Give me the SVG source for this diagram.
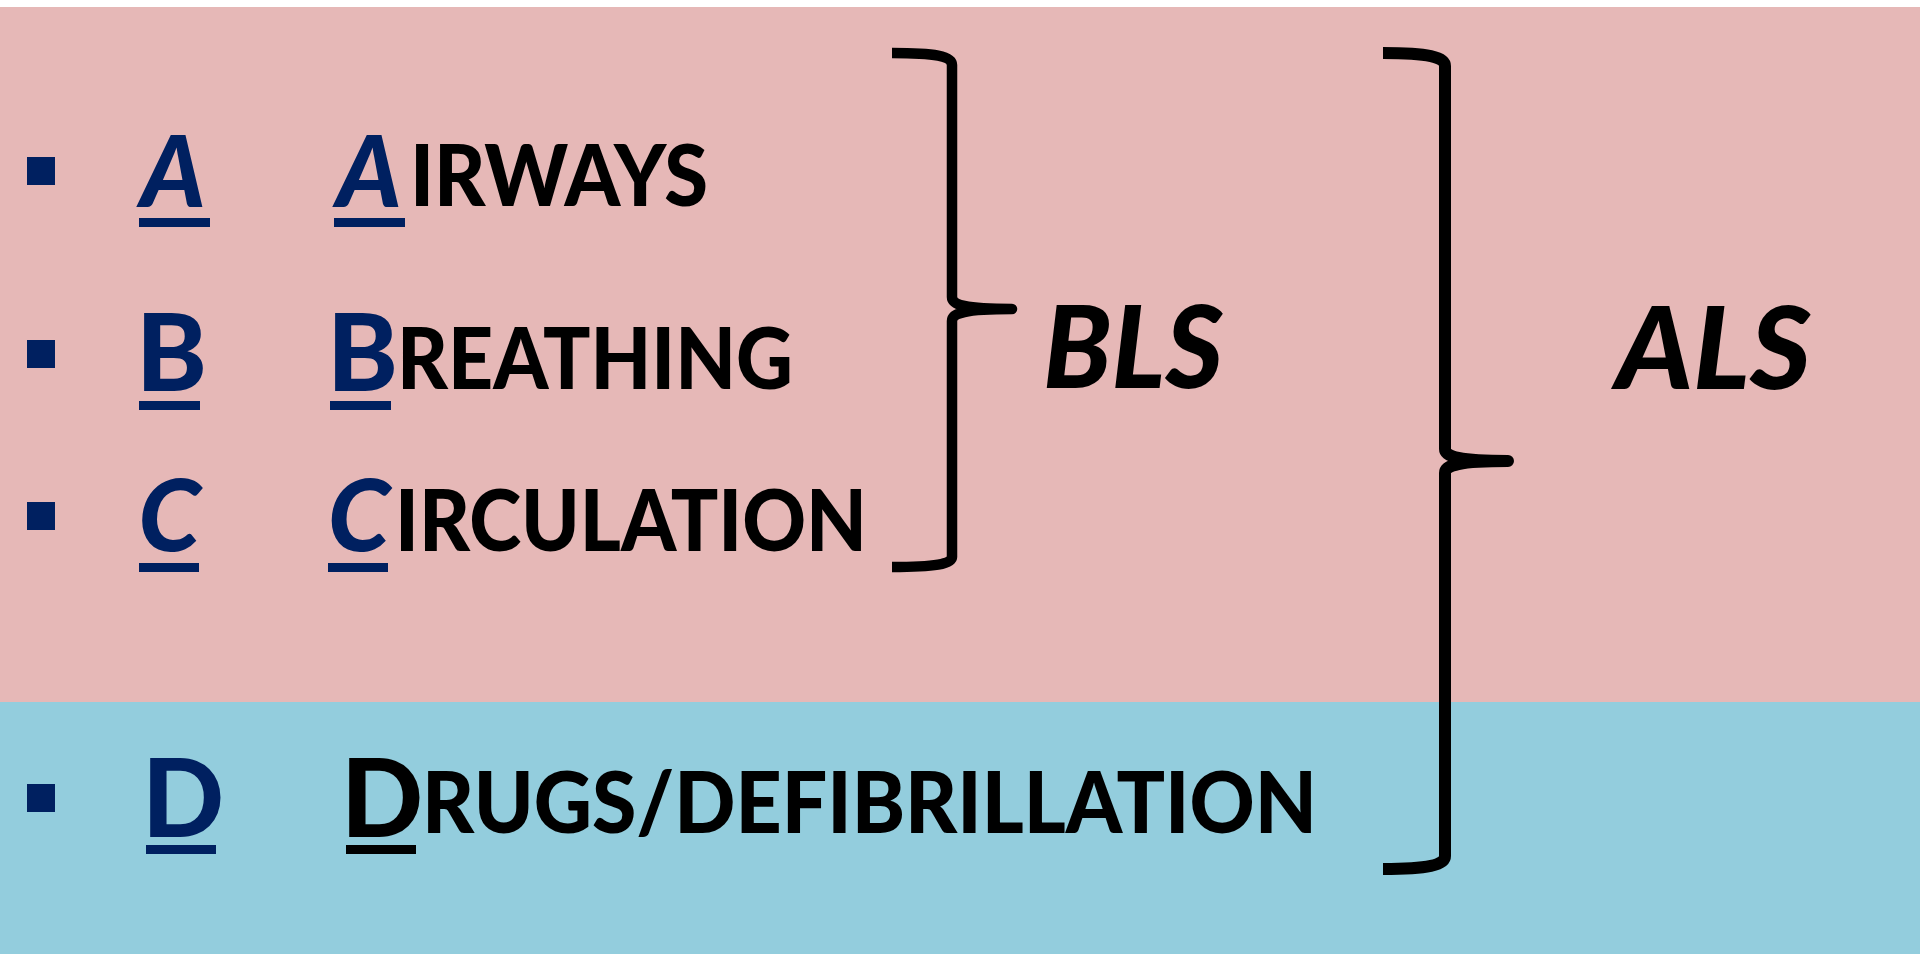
<svg xmlns="http://www.w3.org/2000/svg" width="1920" height="954" viewBox="0 0 1920 954">
<style>
.word{font-family:Lato,"Open Sans","Liberation Sans",sans-serif;font-weight:900;font-size:86.5px;fill:#000}
.scr{font-family:Lato,"Open Sans","Liberation Sans",sans-serif;font-weight:900;fill:#002060;text-anchor:middle}
.it{font-style:italic}
.nav{fill:#002060}
.blk{fill:#000}
.brace{fill:none;stroke:#000;stroke-linejoin:round;stroke-linecap:butt}
.lbl{font-family:Lato,"Open Sans","Liberation Sans",sans-serif;font-weight:900;font-style:italic;font-size:114px;fill:#000}
</style>
<rect x="0" y="0" width="1920" height="954" fill="#ffffff"/>
<rect x="0" y="7" width="1920" height="695" fill="#E6B8B7"/>
<rect x="0" y="702" width="1920" height="252" fill="#93CDDD"/>

<g id="row-a">
<rect class="nav" x="27" y="157" width="28" height="28"/>
<text class="scr it" x="173" y="207" font-size="99">A</text>
<rect class="nav" x="139" y="218" width="71" height="9"/>
<text y="206"><tspan class="scr it" x="369" y="207" font-size="99">A</tspan><tspan class="word" x="410" y="206" textLength="298" lengthAdjust="spacingAndGlyphs">IRWAYS</tspan></text>
<rect class="nav" x="334" y="218" width="71" height="9"/>
</g>

<g id="row-b">
<rect class="nav" x="27" y="340" width="28" height="28"/>
<text class="scr" x="171.5" y="391" font-size="107">B</text>
<rect class="nav" x="139" y="401" width="61" height="9"/>
<text y="389"><tspan class="scr" x="362.5" y="391" font-size="107">B</tspan><tspan class="word" x="397" y="389" textLength="396" lengthAdjust="spacingAndGlyphs">REATHING</tspan></text>
<rect class="nav" x="330" y="401" width="61" height="9"/>
</g>

<g id="row-c">
<rect class="nav" x="27" y="502" width="28" height="28"/>
<text class="scr it" x="169.5" y="551" font-size="100">C</text>
<rect class="nav" x="139" y="563" width="60" height="9"/>
<text y="551"><tspan class="scr it" x="359" y="551" font-size="100">C</tspan><tspan class="word" x="395" y="551" textLength="472" lengthAdjust="spacingAndGlyphs">IRCULATION</tspan></text>
<rect class="nav" x="328" y="563" width="60" height="9"/>
</g>

<g id="row-d">
<rect class="nav" x="27" y="784" width="28" height="28"/>
<text class="scr" x="183" y="837" font-size="108">D</text>
<rect class="nav" x="146" y="845" width="70" height="9"/>
<text y="833"><tspan class="scr" x="382" y="837" font-size="108" style="fill:#000">D</tspan><tspan class="word" x="422" y="833" textLength="895" lengthAdjust="spacingAndGlyphs">RUGS/DEFIBRILLATION</tspan></text>
<rect class="blk" x="346" y="845" width="70" height="9"/>
</g>

<g id="connectors">
<path class="brace" stroke-width="10.5" d="M892,53 C935,53 952,56 952,65 L952,297 C952,305 965,309 1012,309 C965,309 952,313 952,321 L952,557 C952,564 935,567 892,567"/>
<path class="brace" stroke-width="12" d="M1383,53 C1428,53 1445,57 1445,66 L1445,449 C1445,457 1460,461 1508,461 C1460,461 1445,465 1445,473 L1445,856 C1445,865 1428,869 1383,869"/>
</g>

<g id="bls">
<text class="lbl" x="1043" y="388" textLength="180" lengthAdjust="spacingAndGlyphs">BLS</text>
</g>
<g id="als">
<text class="lbl" x="1616" y="389" textLength="195" lengthAdjust="spacingAndGlyphs">ALS</text>
</g>
</svg>
